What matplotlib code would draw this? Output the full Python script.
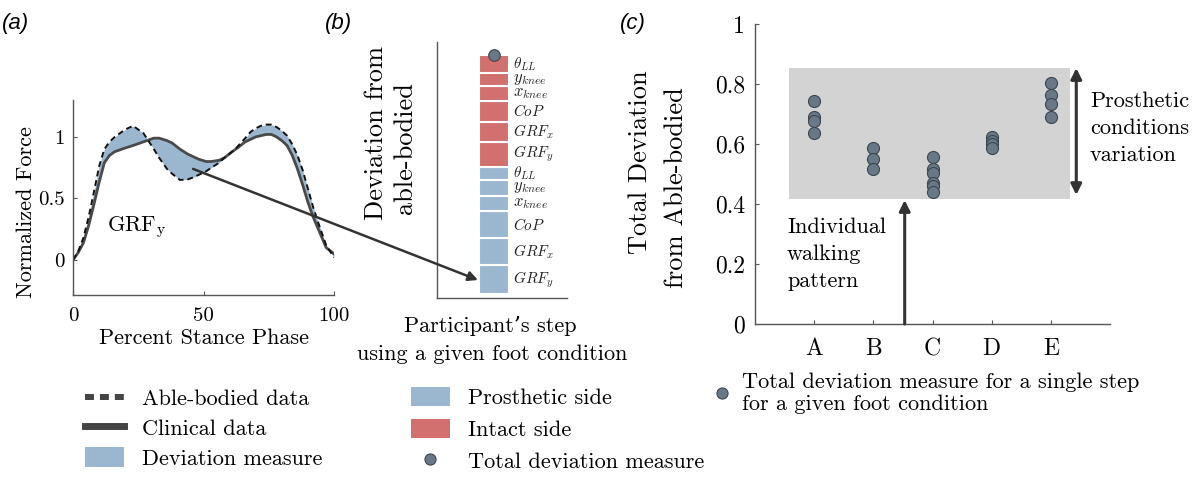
import numpy as np
import matplotlib
matplotlib.use('Agg')
from matplotlib import pyplot as plt
from matplotlib.lines import Line2D
from matplotlib.patches import Patch, ConnectionPatch

plt.rcParams['font.family'] = ['cmr10', 'DejaVu Serif']
plt.rcParams['mathtext.fontset'] = 'cm'
plt.rcParams['axes.formatter.use_mathtext'] = True
plt.rcParams['axes.unicode_minus'] = False

BLUE = '#9bb7d0'
RED = '#d27070'
DOT = '#687887'
DOT_EDGE = '#3c4650'
AXC = '#555555'

# (a) vertical ground reaction force over stance
stance = [0, 2, 4, 6, 8, 10, 12, 14, 16, 20, 23, 27, 31, 33, 36, 38, 41, 44, 46, 48,
          51, 53, 56, 58, 61, 63, 66, 68, 70, 72, 74, 76, 78, 80, 82, 84, 86, 88, 90, 92,
          94, 97, 100]
able_bodied = [0.0, 0.07, 0.18, 0.35, 0.55, 0.76, 0.90, 0.96, 1.00, 1.06, 1.09, 1.03, 0.90, 0.83,
               0.74, 0.70, 0.65, 0.655, 0.67, 0.69, 0.72, 0.75, 0.79, 0.83, 0.88, 0.92, 0.99,
               1.04, 1.07, 1.09, 1.10, 1.10, 1.08, 1.05, 1.01, 0.94, 0.85, 0.73, 0.58, 0.43,
               0.30, 0.12, 0.02]
clinical = [0.0, 0.06, 0.14, 0.28, 0.45, 0.63, 0.79, 0.85, 0.88, 0.91, 0.93, 0.96, 0.99, 0.99,
            0.97, 0.95, 0.90, 0.86, 0.84, 0.82, 0.80, 0.80, 0.81, 0.83, 0.88, 0.91, 0.96,
            0.98, 1.00, 1.01, 1.02, 1.02, 1.00, 0.97, 0.93, 0.85, 0.74, 0.61, 0.47, 0.35,
            0.25, 0.10, 0.05]

# (b) deviation per measure, stacked bottom to top
seg_labels = [r'$GRF_y$', r'$GRF_x$', r'$CoP$', r'$x_{knee}$', r'$y_{knee}$', r'$\theta_{LL}$']
seg_sizes = [11, 11, 11, 12, 12, 11]
prosthetic_dev = [2.9, 2.7, 2.7, 1.55, 1.55, 1.35]
intact_dev = [2.45, 2.05, 2.1, 1.45, 1.35, 1.75]

# (c) total deviation per step for each foot condition
conditions = ['A', 'B', 'C', 'D', 'E']
total_dev = [
    [0.743, 0.690, 0.678, 0.636],
    [0.588, 0.550, 0.517],
    [0.558, 0.516, 0.504, 0.469, 0.460, 0.441],
    [0.624, 0.611, 0.600, 0.586],
    [0.804, 0.763, 0.733, 0.689],
]
variation_low, variation_high = 0.417, 0.853

W, H = 1197, 478
def fx(px):
    return px / W
def fy(py):
    return 1 - py / H

fig = plt.figure(figsize=(W / 100, H / 100), dpi=100)

def style_axes(ax, size):
    for s in ['top', 'right']:
        ax.spines[s].set_visible(False)
    for s in ['left', 'bottom']:
        ax.spines[s].set_color(AXC)
        ax.spines[s].set_linewidth(1.0)
    ax.tick_params(direction='in', length=3, color=AXC, labelsize=size)

# ---- (a)
ax_a = fig.add_axes([fx(73), fy(295), (334 - 73) / W, (295 - 100) / H])
style_axes(ax_a, 15)
ax_a.fill_between(stance, able_bodied, clinical, color=BLUE, lw=0)
ax_a.plot(stance, clinical, color='#4a4a4a', lw=2.0)
ax_a.plot(stance, able_bodied, color='#111111', lw=1.4, ls=(0, (3, 2)))
ax_a.set_xlim(0, 100)
ax_a.set_ylim(-0.285, 1.30)
ax_a.set_xticks([0, 50, 100])
ax_a.set_xticklabels(['0', '50', '100'])
ax_a.set_yticks([0, 0.5, 1])
ax_a.set_yticklabels(['0', '0.5', '1'])
ax_a.tick_params(axis='x', pad=9)
ax_a.tick_params(axis='y', pad=6)
ax_a.text(13, 0.23, r'GRF$_{\mathrm{y}}$', fontsize=16, va='baseline', ha='left')

fig.text(fx(32), fy(212), 'Normalized Force', rotation=90, rotation_mode='anchor',
         ha='center', va='baseline', fontsize=16)
fig.text(fx(204), fy(338), 'Percent Stance Phase', ha='center', va='center', fontsize=16)

# ---- (b)
ax_b = fig.add_axes([fx(437), fy(298), (567 - 437) / W, (298 - 42) / H])
style_axes(ax_b, 10)
ax_b.set_xticks([])
ax_b.set_yticks([])
ax_b.set_xlim(0, 1)
ax_b.set_ylim(-0.4, 25.2)
bar_x, bar_w = 0.44, 0.23
bottom = 0.0
for values, color in [(prosthetic_dev, BLUE), (intact_dev, RED)]:
    for v, lab, fs in zip(values, seg_labels, seg_sizes):
        ax_b.bar(bar_x, v, bottom=bottom, width=bar_w, color=color, edgecolor='white', linewidth=1.5)
        ax_b.text(0.585, bottom + v / 2, lab, fontsize=fs, va='center', ha='left', color='#222222')
        bottom += v
ax_b.scatter([bar_x], [bottom], s=70, c=DOT, edgecolors=DOT_EDGE, linewidths=0.8, zorder=4, clip_on=False)

fig.text(fx(383), fy(133), 'Deviation from', rotation=90, rotation_mode='anchor',
         ha='center', va='baseline', fontsize=19)
fig.text(fx(412), fy(148), 'able-bodied', rotation=90, rotation_mode='anchor',
         ha='center', va='baseline', fontsize=19)
fig.text(fx(490), fy(326), 'Participant\u2019s step', ha='center', va='center', fontsize=16)
fig.text(fx(492), fy(354), 'using a given foot condition', ha='center', va='center', fontsize=16)

con = ConnectionPatch(xyA=(46, 0.74), coordsA='data', axesA=ax_a,
                      xyB=(0.315, 1.4), coordsB='data', axesB=ax_b,
                      arrowstyle='-|>', mutation_scale=14, color='#333333', lw=1.8)
fig.add_artist(con)

# ---- (c)
ax_c = fig.add_axes([fx(755), fy(324), (1110 - 755) / W, (324 - 24) / H])
style_axes(ax_c, 17)
ax_c.fill_between([0.57, 5.33], variation_low, variation_high, color='#d3d3d3', lw=0, zorder=0)
for i, vals in enumerate(total_dev):
    ax_c.scatter([i + 1] * len(vals), vals, s=75, c=DOT, edgecolors=DOT_EDGE, linewidths=0.8, zorder=3)
ax_c.set_xlim(0, 6)
ax_c.set_ylim(0, 1)
ax_c.set_xticks(range(1, 6))
ax_c.set_xticklabels(conditions)
ax_c.set_yticks([0, 0.2, 0.4, 0.6, 0.8, 1])
ax_c.set_yticklabels(['0', '0.2', '0.4', '0.6', '0.8', '1'])
ax_c.tick_params(axis='x', pad=10)
ax_c.tick_params(axis='y', pad=7)
ax_c.annotate('', xy=(5.43, variation_high), xytext=(5.43, variation_low + 0.013),
              arrowprops=dict(arrowstyle='<|-|>', color='#333333', lw=2.2, mutation_scale=16,
                              shrinkA=0, shrinkB=0))
ax_c.annotate('', xy=(2.53, 0.413), xytext=(2.53, 0),
              arrowprops=dict(arrowstyle='-|>', color='#333333', lw=2.2, mutation_scale=16,
                              shrinkA=0, shrinkB=0))

def stacked(x, y0, dy, lines, size):
    for k, line in enumerate(lines):
        fig.text(fx(x), fy(y0 + k * dy), line, ha='left', va='baseline', fontsize=size)

stacked(1090, 107, 27, ['Prosthetic', 'conditions', 'variation'], 16)
stacked(787, 233, 27, ['Individual', 'walking', 'pattern'], 16)

fig.text(fx(647), fy(162), 'Total Deviation', rotation=90, rotation_mode='anchor',
         ha='center', va='baseline', fontsize=19)
fig.text(fx(683), fy(188), 'from Able-bodied', rotation=90, rotation_mode='anchor',
         ha='center', va='baseline', fontsize=19)

# panel tags
for tx, tag in [(2, '(a)'), (325, '(b)'), (620, '(c)')]:
    fig.text(fx(tx), fy(23), tag, family='Liberation Sans', style='italic', fontsize=16,
             ha='left', va='center')

# ---- legends
leg_kw = dict(frameon=False, fontsize=16, borderpad=0, borderaxespad=0, loc='upper left')
h1 = [Line2D([], [], color='#444444', lw=4.3, ls=(0, (1.5, 1.0))),
      Line2D([], [], color='#444444', lw=5),
      Patch(facecolor=BLUE, edgecolor='none')]
fig.legend(h1, ['Able-bodied data', 'Clinical data', 'Deviation measure'],
           bbox_to_anchor=(fx(85), fy(388)), handlelength=1.75, handleheight=0.95,
           handletextpad=0.8, labelspacing=0.38, **leg_kw)

dot_handle = Line2D([], [], marker='o', ls='', ms=8, mfc=DOT, mec=DOT_EDGE, mew=0.8)
h2 = [Patch(facecolor=BLUE, edgecolor='none'), Patch(facecolor=RED, edgecolor='none'), dot_handle]
fig.legend(h2, ['Prosthetic side', 'Intact side', 'Total deviation measure'],
           bbox_to_anchor=(fx(411), fy(387)), handlelength=1.75, handleheight=0.95,
           handletextpad=0.8, labelspacing=0.48, **leg_kw)

leg3 = fig.legend([dot_handle], ['Total deviation measure for a single step\nfor a given foot condition'],
                  bbox_to_anchor=(fx(712), fy(372)), handlelength=0.9, handletextpad=0.45, **leg_kw)

fig.savefig('out.png', dpi=100)
